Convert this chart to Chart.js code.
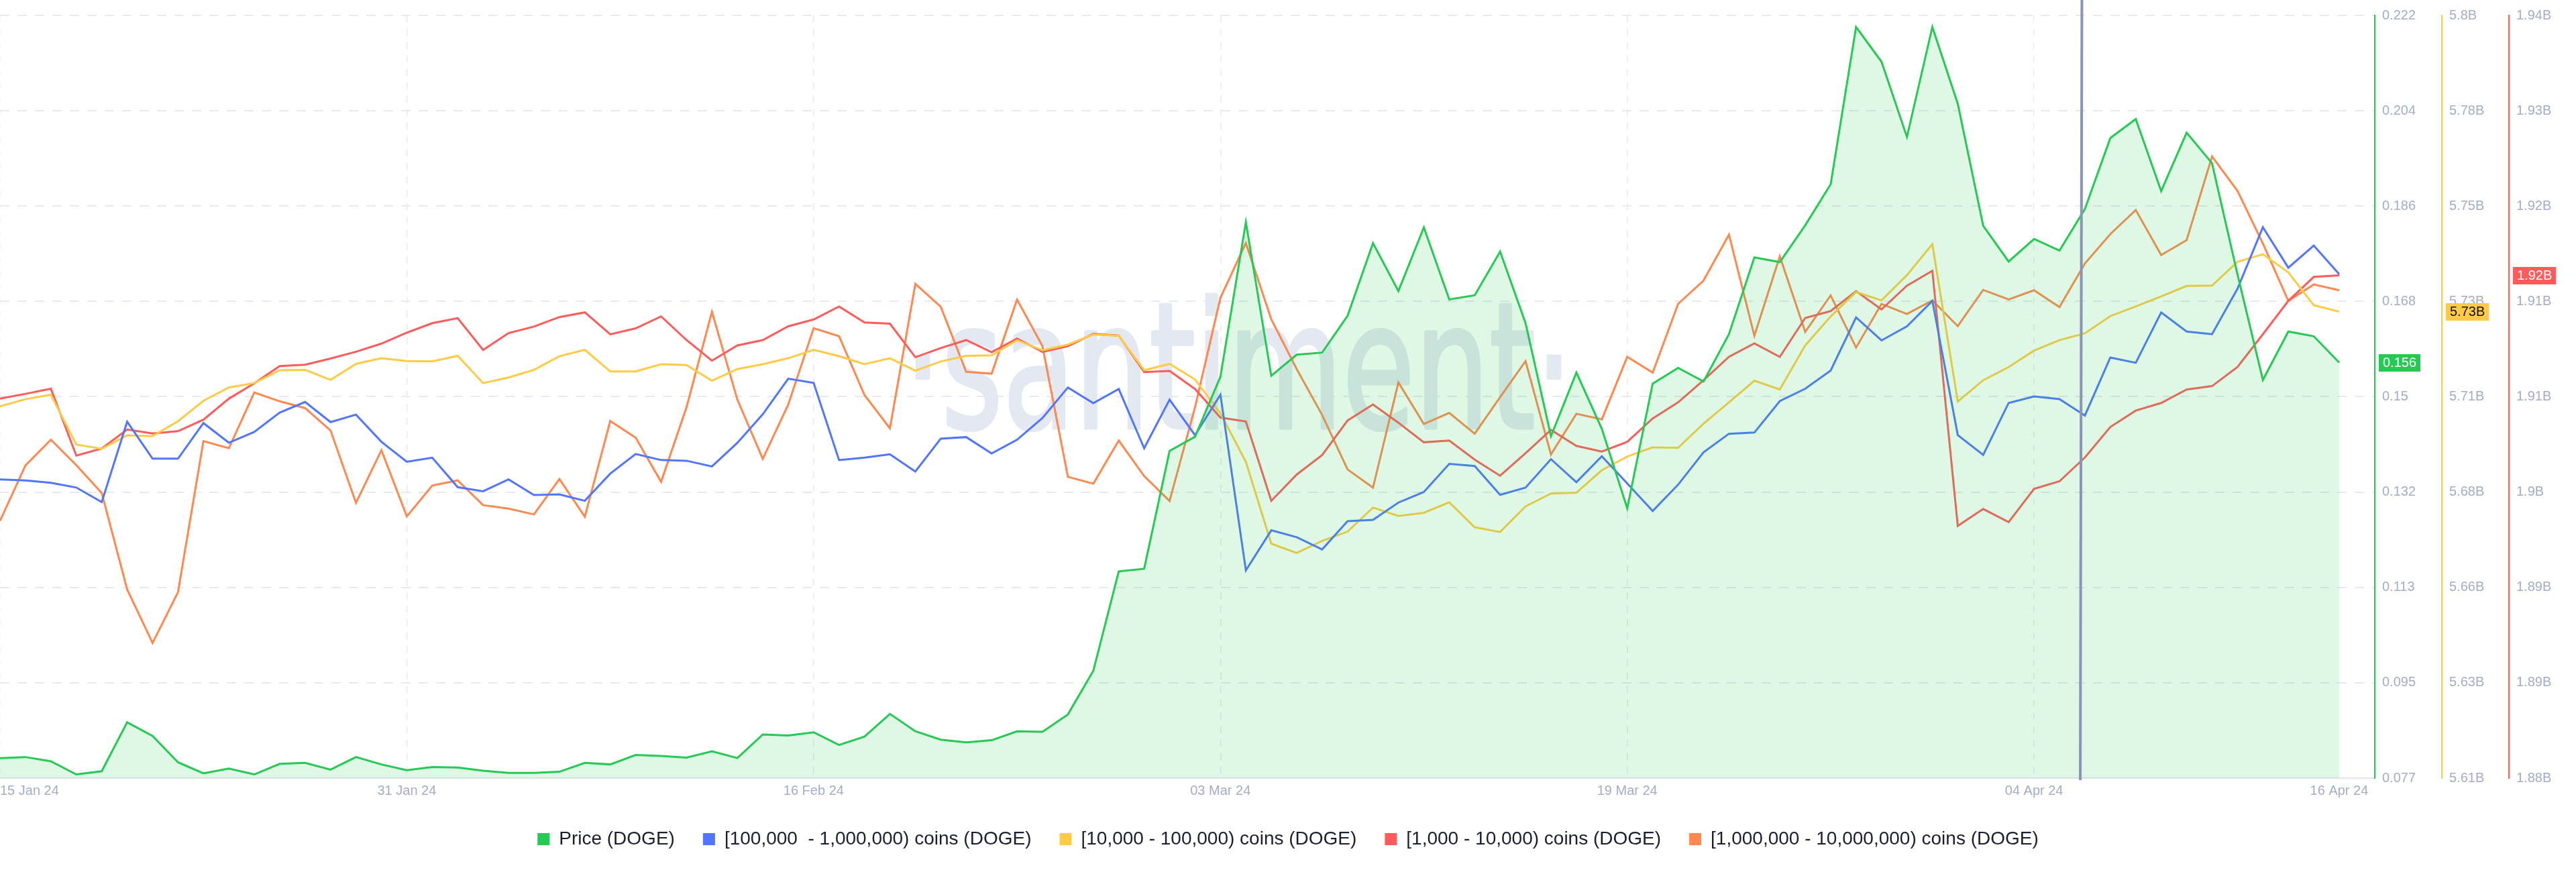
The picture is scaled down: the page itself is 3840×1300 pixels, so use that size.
<!DOCTYPE html>
<html>
<head>
<meta charset="utf-8">
<script src="https://cdn.jsdelivr.net/npm/chart.js@4.4.1/dist/chart.umd.min.js"></script>
<style>
  html, body { margin: 0; padding: 0; background: #ffffff; }
  canvas { display: block; }
</style>
</head>
<body>
<canvas id="chart" width="3840" height="1300"></canvas>
<script>
// ---------------- DATA (daily, 15 Jan 24 -> 16 Apr 24) ----------------
const xTickIndex  = [0, 16, 32, 48, 64, 80, 92];
const xTickLabels = ['15 Jan 24', '31 Jan 24', '16 Feb 24', '03 Mar 24', '19 Mar 24', '04 Apr 24', '16 Apr 24'];

const priceTickLabels  = ['0.077', '0.095', '0.113', '0.132', '0.15', '0.168', '0.186', '0.204', '0.222'];
const yellowTickLabels = ['5.61B', '5.63B', '5.66B', '5.68B', '5.71B', '5.73B', '5.75B', '5.78B', '5.8B'];
const redTickLabels    = ['1.88B', '1.89B', '1.89B', '1.9B', '1.91B', '1.91B', '1.92B', '1.93B', '1.94B'];

const seriesNames = [
  'Price (DOGE)',
  '[100,000  - 1,000,000) coins (DOGE)',
  '[10,000 - 100,000) coins (DOGE)',
  '[1,000 - 10,000) coins (DOGE)',
  '[1,000,000 - 10,000,000) coins (DOGE)'
];

// Price, USD
const priceDOGE = [
  0.0808,0.0810,0.0802,0.0777,0.0783,0.0876,0.0850,0.0800,0.0779,0.0788,
  0.0777,0.0797,0.0799,0.0786,0.0810,0.0796,0.0785,0.0791,0.0790,0.0784,
  0.0780,0.0780,0.0782,0.0799,0.0796,0.0814,0.0812,0.0809,0.0821,0.0808,
  0.0853,0.0851,0.0857,0.0833,0.0849,0.0892,0.0859,0.0843,0.0838,0.0842,
  0.0859,0.0858,0.0891,0.0974,0.1163,0.1168,0.1392,0.1419,0.1533,0.1827,
  0.1535,0.1575,0.1579,0.1649,0.1787,0.1696,0.1817,0.1680,0.1688,0.1771,
  0.1635,0.1420,0.1541,0.1434,0.1283,0.1520,0.1550,0.1524,0.1614,0.1760,
  0.1751,0.1821,0.1899,0.2198,0.2132,0.1989,0.2198,0.2052,0.1820,0.1752,
  0.1795,0.1773,0.1852,0.1987,0.2023,0.1886,0.1997,0.1939,0.1728,0.1527,
  0.1619,0.1610,0.1560
];

// [100,000 - 1,000,000) holders balance - axis hidden in source, relative units (0-100)
const holders100kTo1M = [
  39.16,39.03,38.72,38.10,36.18,46.73,41.88,41.88,46.55,43.97,
  45.39,47.93,49.31,46.68,47.66,44.10,41.47,42.01,38.14,37.61,
  39.16,37.11,37.20,36.36,39.92,42.50,41.70,41.61,40.86,43.96,
  47.71,52.37,51.82,41.70,42.01,42.45,40.20,44.51,44.71,42.56,
  44.36,47.22,51.22,49.17,51.02,43.25,49.62,44.97,50.27,27.23,
  32.49,31.59,29.98,33.68,33.86,36.13,37.52,41.20,40.92,37.14,
  38.08,41.82,38.80,42.20,38.64,35.02,38.47,42.71,45.15,45.31,
  49.43,51.05,53.44,60.40,57.39,59.23,62.57,44.98,42.37,49.19,
  50.04,49.69,47.54,55.15,54.45,61.06,58.55,58.20,64.16,72.23,
  66.92,69.83,66.07
];

// [10,000 - 100,000) holders balance, billions of DOGE
const holders10kTo100k = [
  5.7026,5.7044,5.7055,5.6931,5.6920,5.6954,5.6952,5.6989,5.7040,5.7073,
  5.7084,5.7116,5.7117,5.7092,5.7132,5.7146,5.7139,5.7138,5.7152,5.7084,
  5.7098,5.7117,5.7151,5.7167,5.7113,5.7113,5.7131,5.7129,5.7090,5.7119,
  5.7131,5.7146,5.7167,5.7151,5.7131,5.7146,5.7115,5.7138,5.7152,5.7153,
  5.7191,5.7166,5.7180,5.7205,5.7202,5.7116,5.7132,5.7093,5.7009,5.6888,
  5.6684,5.6661,5.6691,5.6714,5.6774,5.6753,5.6761,5.6787,5.6725,5.6713,
  5.6777,5.6809,5.6811,5.6867,5.6901,5.6924,5.6923,5.6983,5.7036,5.7090,
  5.7068,5.7178,5.7250,5.7311,5.7290,5.7353,5.7430,5.7038,5.7091,5.7124,
  5.7165,5.7191,5.7208,5.7251,5.7275,5.7300,5.7326,5.7327,5.7386,5.7405,
  5.7360,5.7278,5.7262
];

// [1,000 - 10,000) holders balance, billions of DOGE
const holders1kTo10k = [
  1.90985,1.91023,1.91063,1.90537,1.90593,1.90742,1.90711,1.90729,1.90820,1.90985,
  1.91106,1.91242,1.91252,1.91301,1.91354,1.91418,1.91504,1.91579,1.91618,1.91368,
  1.91501,1.91552,1.91627,1.91664,1.91491,1.91538,1.91632,1.91446,1.91284,1.91404,
  1.91446,1.91554,1.91608,1.91710,1.91584,1.91575,1.91311,1.91383,1.91446,1.91350,
  1.91458,1.91353,1.91398,1.91494,1.91482,1.91194,1.91203,1.91061,1.90836,1.90806,
  1.90181,1.90388,1.90541,1.90813,1.90939,1.90796,1.90642,1.90656,1.90505,1.90379,
  1.90556,1.90739,1.90613,1.90569,1.90646,1.90829,1.90956,1.91130,1.91314,1.91420,
  1.91314,1.91620,1.91674,1.91831,1.91687,1.91874,1.91991,1.89984,1.90117,1.90014,
  1.90275,1.90335,1.90522,1.90762,1.90891,1.90951,1.91057,1.91084,1.91234,1.91492,
  1.91754,1.91943,1.91955
];

// [1,000,000 - 10,000,000) holders balance - axis hidden in source, relative units (0-100)
const holders1MTo10M = [
  33.73,40.99,44.37,41.03,37.38,24.74,17.71,24.38,44.19,43.25,
  50.56,49.40,48.51,45.58,36.09,42.99,34.31,38.36,39.03,35.78,
  35.33,34.57,39.21,34.27,46.82,44.64,38.85,48.62,61.14,49.62,
  41.86,48.97,58.99,57.93,50.22,45.86,64.80,61.79,53.27,53.03,
  62.74,56.63,39.50,38.60,44.26,39.60,36.34,48.62,62.99,70.16,
  60.14,53.63,47.62,40.47,38.08,51.88,46.43,47.88,45.15,49.94,
  54.67,42.43,47.77,47.04,55.23,53.17,62.18,65.23,71.25,58.00,
  68.41,58.51,63.29,56.45,62.18,60.85,62.63,59.26,64.01,62.77,
  63.96,61.76,67.47,71.33,74.49,68.58,70.53,81.50,76.99,70.08,
  62.57,64.72,63.96
];

const markerDayIndex = 81.85;   // vertical marker line (between 5 and 6 Apr)

// ---------------- STYLE ----------------
const COLORS = {
  green: '#26c953', blue: '#5275ff', yellow: '#ffcb47', red: '#ff5b5b', orange: '#ff8850',
  greenFill: 'rgba(38,201,83,0.15)', tick: '#a4acc6', grid: '#e8eaf2', axis: '#e1e5ee',
  legend: '#1b1e31', marker: '#8b94b8', watermark: '#e4e8f1'
};
const TICK_FONT = { family: '"Liberation Sans", Arial, sans-serif', size: 20 };
const X_MAX = 93.4;

const toXY = arr => arr.map((v, i) => ({ x: i, y: v }));

function evenTicks(labels) {
  return function (scale) {
    const n = labels.length - 1;
    scale.ticks = labels.map((l, k) => ({ value: scale.min + k * (scale.max - scale.min) / n }));
  };
}
function fixedWidth(w) { return function (scale) { scale.width = w; }; }

function rightAxis(min, max, labels, color, weight, showGrid) {
  return {
    type: 'linear', position: 'right', min, max, weight,
    afterBuildTicks: evenTicks(labels),
    afterFit: fixedWidth(100),
    grid: {
      display: showGrid, drawTicks: false, lineWidth: 2,
      color: ctx => (ctx.index === 0 ? 'rgba(0,0,0,0)' : COLORS.grid)
    },
    border: { display: true, color, width: 2, dash: [14, 12] },
    ticks: {
      padding: 11, color: COLORS.tick, font: TICK_FONT,
      callback: (v, i) => labels[i]
    }
  };
}

// ---------------- PLUGINS ----------------
const watermarkPlugin = {
  id: 'watermark',
  beforeDatasetsDraw(chart) {
    const { ctx, chartArea } = chart;
    const text = '·santiment·';
    ctx.save();
    ctx.font = '400 262px "Liberation Sans Narrow", "DejaVu Sans Condensed", "Liberation Sans", sans-serif';
    ctx.fillStyle = COLORS.watermark;
    ctx.strokeStyle = COLORS.watermark;
    ctx.lineWidth = 5;
    ctx.lineJoin = 'round';
    ctx.textAlign = 'center';
    ctx.textBaseline = 'alphabetic';
    const w = ctx.measureText(text).width;
    const targetW = chartArea.width * 0.2815;
    ctx.translate(chartArea.left + chartArea.width * 0.5215, chartArea.top + chartArea.height * 0.541);
    ctx.scale(targetW / w, 1);
    ctx.fillText(text, 0, 0);
    ctx.strokeText(text, 0, 0);
    ctx.restore();
  }
};

const markerPlugin = {
  id: 'marker',
  afterDatasetsDraw(chart) {
    const { ctx, chartArea } = chart;
    const x = chart.scales.x.getPixelForValue(markerDayIndex);
    ctx.save();
    ctx.strokeStyle = COLORS.marker;
    ctx.lineWidth = 4;
    ctx.beginPath();
    ctx.moveTo(x + 1.2, 0);
    ctx.lineTo(x - 1.2, chartArea.bottom + 3);
    ctx.stroke();
    ctx.restore();
  }
};

const badgePlugin = {
  id: 'badges',
  afterDraw(chart) {
    const { ctx } = chart;
    const items = [
      { scale: 'yPrice',  ds: 0, bg: COLORS.green,  fg: '#ffffff', fmt: v => v.toFixed(3) },
      { scale: 'yYellow', ds: 2, bg: COLORS.yellow, fg: '#111111', fmt: v => v.toFixed(2) + 'B' },
      { scale: 'yRed',    ds: 3, bg: COLORS.red,    fg: '#ffffff', fmt: v => v.toFixed(2) + 'B' }
    ];
    ctx.save();
    ctx.font = `${TICK_FONT.size}px ${TICK_FONT.family}`;
    ctx.textBaseline = 'middle';
    ctx.textAlign = 'left';
    items.forEach(it => {
      const data = chart.data.datasets[it.ds].data;
      const last = data[data.length - 1].y;
      const sc = chart.scales[it.scale];
      const y = sc.getPixelForValue(last);
      const text = it.fmt(last);
      const tw = ctx.measureText(text).width;
      ctx.fillStyle = it.bg;
      ctx.fillRect(sc.left + 6, Math.round(y - 13), tw + 12, 26);
      ctx.fillStyle = it.fg;
      ctx.fillText(text, sc.left + 12, y + 1);
    });
    ctx.restore();
  }
};

// ---------------- CHART ----------------
new Chart(document.getElementById('chart'), {
  type: 'line',
  data: {
    datasets: [
      {
        label: seriesNames[0], data: toXY(priceDOGE), yAxisID: 'yPrice',
        borderColor: COLORS.green, backgroundColor: COLORS.green, borderWidth: 3,
        fill: { target: 'start', above: COLORS.greenFill, below: COLORS.greenFill }
      },
      { label: seriesNames[1], data: toXY(holders100kTo1M), yAxisID: 'yBlue',
        borderColor: COLORS.blue, backgroundColor: COLORS.blue, borderWidth: 3, fill: false },
      { label: seriesNames[2], data: toXY(holders10kTo100k), yAxisID: 'yYellow',
        borderColor: COLORS.yellow, backgroundColor: COLORS.yellow, borderWidth: 3, fill: false },
      { label: seriesNames[3], data: toXY(holders1kTo10k), yAxisID: 'yRed',
        borderColor: COLORS.red, backgroundColor: COLORS.red, borderWidth: 3, fill: false },
      { label: seriesNames[4], data: toXY(holders1MTo10M), yAxisID: 'yOrange',
        borderColor: COLORS.orange, backgroundColor: COLORS.orange, borderWidth: 3, fill: false }
    ]
  },
  options: {
    responsive: false,
    maintainAspectRatio: false,
    animation: false,
    devicePixelRatio: 1,
    layout: { padding: { top: 1, right: 0, bottom: 25, left: 0 } },
    elements: { point: { radius: 0, hoverRadius: 0 }, line: { tension: 0, borderJoinStyle: 'miter' } },
    scales: {
      x: {
        type: 'linear', min: 0, max: X_MAX,
        afterBuildTicks: scale => { scale.ticks = xTickIndex.concat([X_MAX]).map(v => ({ value: v })); },
        afterFit: scale => { scale.height = 35; scale.paddingLeft = 0; scale.paddingRight = 0; },
        grid: {
          drawTicks: false, lineWidth: 1.5,
          color: ctx => (ctx.tick && (ctx.tick.value === 92 || ctx.tick.value === X_MAX) ? 'rgba(0,0,0,0)' : COLORS.grid)
        },
        border: { display: true, color: COLORS.axis, width: 2, dash: [10, 10] },
        ticks: {
          autoSkip: false, maxRotation: 0, align: 'inner', padding: 7,
          color: COLORS.tick, font: TICK_FONT,
          callback: (v, i) => (i < xTickLabels.length ? xTickLabels[i] : '')
        }
      },
      yPrice: rightAxis(0.077, 0.222, priceTickLabels, COLORS.green, 0, true),
      yYellow: rightAxis(5.61, 5.80, yellowTickLabels, COLORS.yellow, 1, false),
      yRed: rightAxis(1.88, 1.94, redTickLabels, COLORS.red, 2, false),
      yBlue: { type: 'linear', display: false, min: 0, max: 100 },
      yOrange: { type: 'linear', display: false, min: 0, max: 100 }
    },
    plugins: {
      tooltip: { enabled: false },
      title: { display: false },
      legend: {
        position: 'bottom',
        labels: {
          boxWidth: 18, boxHeight: 18, padding: 42, color: COLORS.legend,
          font: { family: '"Liberation Sans", Arial, sans-serif', size: 28 },
          generateLabels: chart => chart.data.datasets.map((ds, i) => ({
            text: ds.label, fillStyle: ds.borderColor, strokeStyle: ds.borderColor,
            lineWidth: 0, hidden: false, datasetIndex: i, fontColor: COLORS.legend
          }))
        }
      }
    }
  },
  plugins: [watermarkPlugin, markerPlugin, badgePlugin]
});
</script>
</body>
</html>
